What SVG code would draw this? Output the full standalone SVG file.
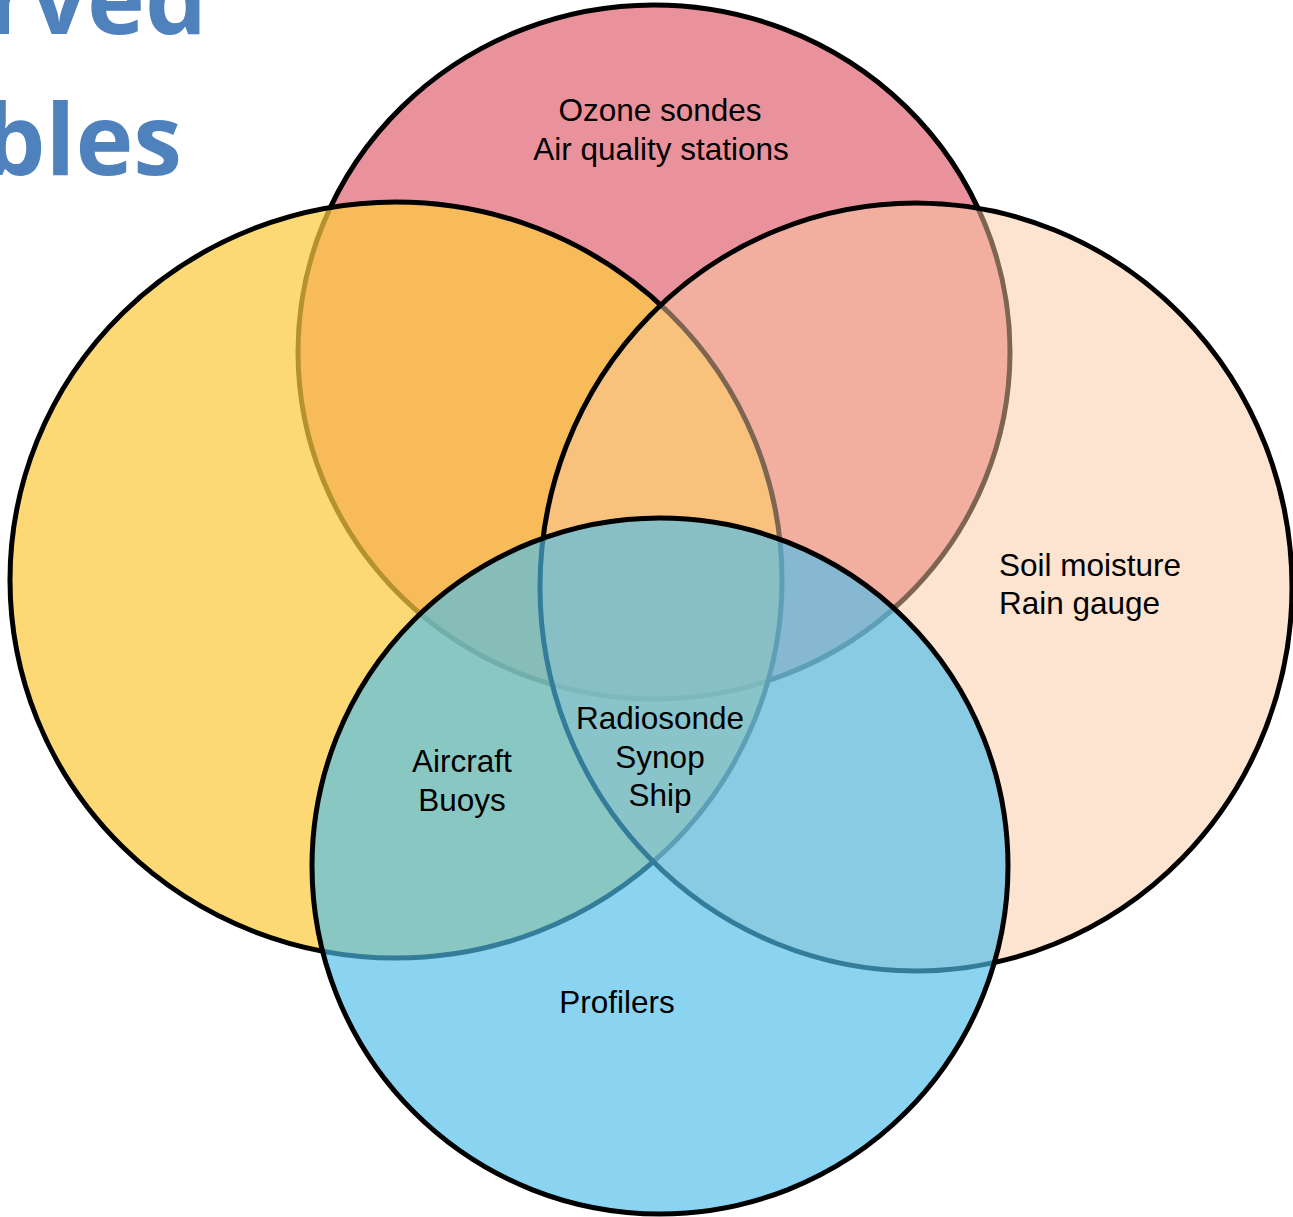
<svg xmlns="http://www.w3.org/2000/svg" width="1293" height="1217" viewBox="0 0 1293 1217">
<style>
.c{stroke:#000;stroke-width:5}
.t{font-family:"Liberation Sans",Arial,sans-serif;font-size:31.5px;fill:#000}
.h{font-family:"Open Sans","Liberation Sans",sans-serif;font-weight:bold;font-size:98px;fill:#4F81BD}
</style>
<rect width="1293" height="1217" fill="#fff"/>
<g id="title">
<text class="h" x="207" y="34" text-anchor="end">rved</text>
<text class="h" x="182" y="175" text-anchor="end">bles</text>
</g>
<g id="connectors"></g>
<g id="red"><ellipse class="c" cx="654" cy="352" rx="356" ry="347" fill="#DC4A5A" fill-opacity="0.6"/></g>
<g id="yellow"><ellipse class="c" cx="396" cy="580" rx="386" ry="378" fill="#FCCB40" fill-opacity="0.72"/></g>
<g id="peach"><ellipse class="c" cx="916" cy="587" rx="376" ry="384" fill="#F9C9A2" fill-opacity="0.5"/></g>
<g id="blue"><ellipse class="c" cx="660" cy="866" rx="348" ry="348" fill="#4EBDEB" fill-opacity="0.66"/></g>
<g id="labels">
<text class="t" x="660" y="121" text-anchor="middle">Ozone sondes</text>
<text class="t" x="661" y="160" text-anchor="middle">Air quality stations</text>
<text class="t" x="999" y="576">Soil moisture</text>
<text class="t" x="999" y="614">Rain gauge</text>
<text class="t" x="660" y="729" text-anchor="middle">Radiosonde</text>
<text class="t" x="660" y="768" text-anchor="middle">Synop</text>
<text class="t" x="660" y="806" text-anchor="middle">Ship</text>
<text class="t" x="462" y="772" text-anchor="middle">Aircraft</text>
<text class="t" x="462" y="811" text-anchor="middle">Buoys</text>
<text class="t" x="617" y="1013" text-anchor="middle">Profilers</text>
</g>
</svg>
